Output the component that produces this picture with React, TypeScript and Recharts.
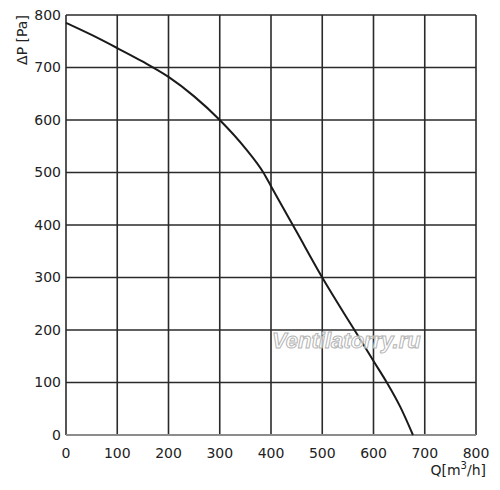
import { LineChart, Line, XAxis, YAxis, CartesianGrid, ReferenceLine } from 'recharts'

const flow = [0, 50, 100, 150, 200, 250, 300, 350, 385, 400, 450, 500, 550, 575, 600, 626, 652, 677]
const pressure = [785, 762, 737, 711, 682, 645, 600, 546, 500, 474, 387, 300, 220, 181, 141, 100, 54, 0]
const xTicks = [0, 100, 200, 300, 400, 500, 600, 700, 800]
const yTicks = [0, 100, 200, 300, 400, 500, 600, 700, 800]

const data = flow.map((q, i) => ({ q, p: pressure[i] }))

const font = 'DejaVu Sans, Verdana, sans-serif'

export default function App() {
  return (
    <div style={{ position: 'absolute', left: 0, top: 0, width: 500, height: 490, background: '#fff' }}>
      <LineChart width={500} height={490} data={data} margin={{ top: 15, right: 24, left: 0, bottom: 0 }}>
        <CartesianGrid stroke="#2a2a2a" strokeWidth={1.6} />
        <XAxis
          dataKey="q"
          type="number"
          domain={[0, 800]}
          ticks={xTicks}
          height={55}
          axisLine={false}
          tickLine={false}
          tickSize={0}
          tickMargin={13}
          tick={{ fontSize: 14, fill: '#222', fontFamily: font }}
          label={{
            content: ({ viewBox }: any) => (
              <text
                x={viewBox.x + viewBox.width + 10}
                y={viewBox.y + 40}
                textAnchor="end"
                fontSize={14}
                fill="#222"
                fontFamily={font}
              >
                Q[m<tspan dy={-6} fontSize={10}>3</tspan>
                <tspan dy={6}>/h]</tspan>
              </text>
            ),
          }}
        />
        <YAxis
          type="number"
          domain={[0, 800]}
          ticks={yTicks}
          width={66}
          axisLine={false}
          tickLine={false}
          tickSize={0}
          tickMargin={5}
          tick={{ fontSize: 14, fill: '#222', fontFamily: font }}
          label={{
            content: ({ viewBox }: any) => (
              <text
                x={viewBox.x + 22}
                y={viewBox.y + 25}
                transform={`rotate(-90 ${viewBox.x + 22} ${viewBox.y + 25})`}
                textAnchor="middle"
                dominantBaseline="central"
                fontSize={14}
                fill="#222"
                fontFamily={font}
              >
                ΔP [Pa]
              </text>
            ),
          }}
        />
        <ReferenceLine y={0} stroke="#8c8c8c" strokeWidth={2} />
        <Line
          dataKey="p"
          type="monotone"
          stroke="#1a1a1a"
          strokeWidth={2}
          dot={false}
          isAnimationActive={false}
        />
      </LineChart>
      <div
        style={{
          position: 'absolute',
          left: 272,
          top: 328,
          fontFamily: 'Liberation Sans, Arial, sans-serif',
          fontStyle: 'italic',
          fontWeight: 'bold',
          fontSize: 22,
          color: 'rgba(255,255,255,0.7)',
          WebkitTextStroke: '1px #b4b4b4',
          pointerEvents: 'none',
        }}
      >
        Ventilatorry.ru
      </div>
    </div>
  )
}
